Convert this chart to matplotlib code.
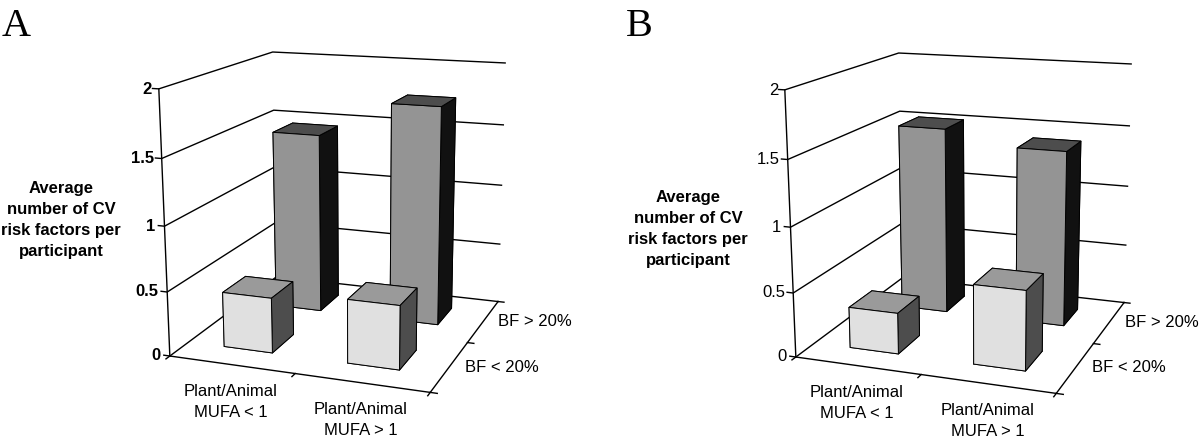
import numpy as np
import matplotlib
matplotlib.use('Agg')
import matplotlib.pyplot as plt

plt.rcParams['font.family'] = ['Liberation Sans', 'DejaVu Sans']

# bar heights
front_a = [0.43, 0.49]   # BF < 20%
back_a = [1.46, 1.75]    # BF > 20%
front_b = [0.32, 0.61]
back_b = [1.52, 1.41]

z_ticks = [0, 0.5, 1, 1.5, 2]
z_labels = ['0', '0.5', '1', '1.5', '2']
col_labels = ['Plant/Animal\nMUFA < 1', 'Plant/Animal\nMUFA > 1']
row_labels = ['BF < 20%', 'BF > 20%']
y_title = 'Average\nnumber of CV\nrisk factors per\nparticipant'

# where the bars stand on the floor
bar_x = [0.295, 1.285]
bar_y = [0.31, 1.30]
bar_w = 0.395
bar_d = 0.41

# camera fitted to the corners of the reference
elev, azim, roll, focal = 14.678, -69.828, 0.198, 0.5244
box = (1, 1.0055, 0.9963)
ax_rect = [0.09787, 0.02212, 0.36643, 0.99934]

# bottom, top, front, back, left, right
front_cols = ['#e0e0e0', '#9a9a9a', '#e0e0e0', '#e0e0e0', '#4d4d4d', '#4d4d4d']
back_cols = ['#949494', '#4d4d4d', '#949494', '#949494', '#111111', '#111111']
LW = 1.0


def px_text(x, y, s, **kw):
    fig.text(x / 1200, 1 - y / 440, s, **kw)


def draw_panel(dx, dy, front, back, letter, tick_right, title_xy, bold_ticks, col_xy, row_xy):
    rect = [ax_rect[0] + dx / 1200, ax_rect[1] - dy / 440, ax_rect[2], ax_rect[3]]
    ax = fig.add_axes(rect, projection='3d')
    ax.computed_zorder = False
    ax.set_proj_type('persp', focal_length=focal)
    ax.view_init(elev, azim, roll)
    ax.set_box_aspect(box)
    ax.set_xlim(0, 2)
    ax.set_ylim(0, 2)
    ax.set_zlim(0, 2)
    ax.set_axis_off()
    ax.patch.set_alpha(0)

    # walls: gridlines run along the left wall and then the back wall
    for z in z_ticks:
        ax.plot([-0.05, 0, 0, 2], [0, 0, 2, 2], [z, z, z, z], color='k', lw=LW, zorder=1)
    ax.plot([0, 0], [0, 0], [0, 2], color='k', lw=LW, zorder=1)
    # floor and its ticks
    ax.plot([0, 2, 2], [0, 0, 2], [0, 0, 0], color='k', lw=LW, zorder=1)
    ax.plot([2, 2.05], [2, 2], [0, 0], color='k', lw=LW, zorder=1)
    for x in [0, 1, 2]:
        ax.plot([x, x], [0, -0.06], [0, 0], color='k', lw=LW, zorder=1)
    for y in [0, 1]:
        ax.plot([2, 2.05], [y, y], [0, 0], color='k', lw=LW, zorder=1)

    for i, h in enumerate(back):
        ax.bar3d(bar_x[i], bar_y[1], 0, bar_w, bar_d, h, color=back_cols, shade=False,
                 edgecolor='k', linewidth=0.7, zorder=2)
    for i, h in enumerate(front):
        ax.bar3d(bar_x[i], bar_y[0], 0, bar_w, bar_d, h, color=front_cols, shade=False,
                 edgecolor='k', linewidth=0.7, zorder=3)
    ax.set_xlim(0, 2)
    ax.set_ylim(0, 2)
    ax.set_zlim(0, 2)

    px_text(letter[1], 36, letter[0], family='Liberation Serif', fontsize=29, ha='left', va='baseline')
    tick_y = [355, 291, 226, 158, 89]
    for lab, xr, yy in zip(z_labels, tick_right, tick_y):
        px_text(xr, yy + dy, lab, fontsize=12, ha='right', va='center',
                fontweight='bold' if bold_ticks else 'normal')
    px_text(title_xy[0], title_xy[1], y_title, fontsize=12, fontweight='bold',
            ha='center', va='center', linespacing=1.5)
    for lab, (cx, cy) in zip(col_labels, col_xy):
        px_text(cx, cy, lab, fontsize=12, ha='center', va='center', linespacing=1.42)
    for lab, (rx, ry) in zip(row_labels, row_xy):
        px_text(rx, ry, lab, fontsize=12, ha='left', va='center')


fig = plt.figure(figsize=(12, 4.4), dpi=100)

draw_panel(0, 0, front_a, back_a, ('A', 2), [161, 158, 155, 154, 152], (61, 220), True,
           [(231, 402), (361, 420)], [(465, 367), (498, 321)])
draw_panel(626, 1, front_b, back_b, ('B', 626), [787, 785, 781, 780, 778], (688, 229), False,
           [(857, 403), (988, 421)], [(1092, 367), (1125, 322)])

plt.savefig('out.png', dpi=100)
